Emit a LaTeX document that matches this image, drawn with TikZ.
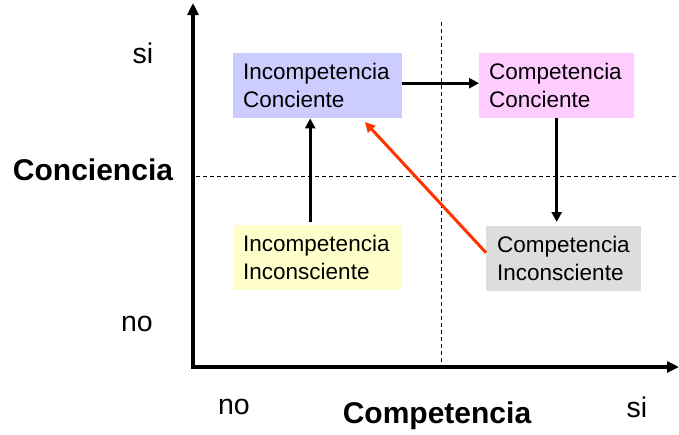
\documentclass[tikz,border=0pt]{standalone}
\usepackage{fontspec}
\setmainfont{Liberation Sans}
\usetikzlibrary{arrows.meta}
\definecolor{icblue}{HTML}{CCCCFF}
\definecolor{ccpink}{HTML}{FFCCFF}
\definecolor{iiyellow}{HTML}{FFFFCC}
\definecolor{cigray}{HTML}{DDDDDD}
\definecolor{redarrow}{HTML}{FF3300}
\tikzset{
  box/.style={minimum height=65pt, inner xsep=10pt, inner ysep=0pt, align=left,
    font=\fontsize{22.5}{27.5}\selectfont, anchor=north west},
  axislabel/.style={font=\bfseries\fontsize{30}{34}\selectfont},
  ticklabel/.style={font=\fontsize{28.5}{32}\selectfont},
  conn/.style={line width=3pt, -{Triangle[length=10pt,width=10pt]}},
  axisline/.style={line width=4pt, {Triangle[length=12pt,width=11pt]}-{Triangle[length=12pt,width=11pt]}},
  guide/.style={line width=1pt, dash pattern=on 4pt off 3pt}
}
\begin{document}
\begin{tikzpicture}[x=1pt,y=-1pt]
\useasboundingbox (0,0) rectangle (679,434);
% guides
\draw[guide] (441,22) -- (441,367);
\draw[guide] (196,176) -- (679,176);
% axes
\coordinate (ytip) at (193,3);
\coordinate (orig) at (193,367);
\coordinate (xtip) at (679,367);
\draw[axisline, line join=miter] (ytip) -- (orig) -- (xtip);
% boxes
\node[box, fill=icblue, text width=149pt, minimum width=169pt] (IC) at (233,53) {Incompetencia\\Conciente};
\node[box, fill=ccpink, text width=135pt, minimum width=155pt] (CC) at (479,53) {Competencia\\Conciente};
\node[box, fill=iiyellow, text width=149pt, minimum width=169pt] (II) at (233,225) {Incompetencia\\Inconsciente};
\node[box, fill=cigray, text width=133pt, minimum width=155pt, inner xsep=11pt] (CI) at (486,226) {Competencia\\Inconsciente};
% connectors
\draw[conn] ([yshift=2.5pt]IC.east) -- ([yshift=2.5pt]CC.west);
\draw[conn, shorten >=4pt] (CC.south) -- (CC.south |- CI.north);
\draw[conn, shorten <=3pt] ([xshift=-7.5pt]II.north) -- ([xshift=-7.5pt]IC.south);
\coordinate (redtip) at (365,122);
\draw[conn, redarrow] ([yshift=6pt]CI.west) -- (redtip);
% labels
\node[ticklabel] (siY) at (143,53) {si};
\node[ticklabel] (noY) at (137,324) {no};
\node[axislabel] (conc) at (93,170) {Conciencia};
\node[ticklabel] (noX) at (234,407) {no};
\node[axislabel] (comp) at (437,416) {Competencia};
\node[ticklabel] (siX) at (637,407) {si};
\end{tikzpicture}
\end{document}
